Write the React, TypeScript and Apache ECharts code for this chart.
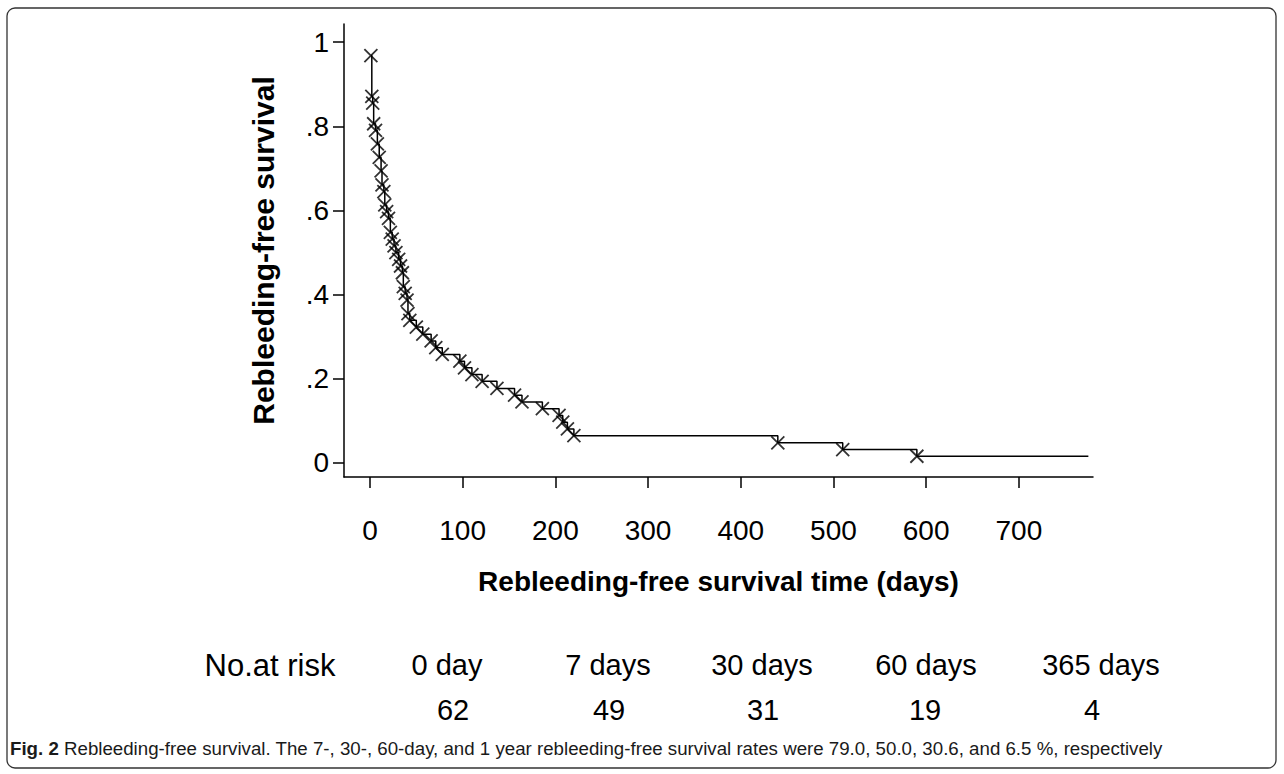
import React, { useEffect, useRef } from "react";
import * as echarts from "echarts";

// Kaplan–Meier event points (days, rebleeding-free survival)
const eventDays = [1, 2, 3, 4, 6, 8, 10, 12, 13, 15, 16, 18, 20, 22, 24, 26, 28, 31, 33, 35, 36, 38, 40, 41, 43, 50, 57, 66, 71, 78, 97, 102, 110, 121, 137, 156, 164, 186, 204, 208, 213, 220, 440, 510, 590];
const survival = [0.968, 0.871, 0.855, 0.806, 0.79, 0.758, 0.726, 0.694, 0.661, 0.645, 0.613, 0.597, 0.581, 0.548, 0.532, 0.516, 0.5, 0.484, 0.468, 0.452, 0.419, 0.403, 0.387, 0.355, 0.339, 0.323, 0.306, 0.29, 0.274, 0.258, 0.242, 0.226, 0.21, 0.194, 0.177, 0.161, 0.145, 0.129, 0.113, 0.097, 0.081, 0.065, 0.048, 0.032, 0.016];
const lastFollowUpDay = 775;

const xTicks = [0, 100, 200, 300, 400, 500, 600, 700];
const yTicks = [0, 0.2, 0.4, 0.6, 0.8, 1];
const yTickLabels = ["0", ".2", ".4", ".6", ".8", "1"];

const riskHeader = "No.at risk";
const riskTimes = ["0 day", "7 days", "30 days", "60 days", "365 days"];
const riskCounts = ["62", "49", "31", "19", "4"];
const riskCenters = [447, 608, 762, 926, 1101];
const countCenters = [453, 609, 763, 925, 1092];

const FONT = "'Liberation Sans', Arial, Helvetica, sans-serif";

export default function App() {
  const ref = useRef<HTMLDivElement>(null);

  useEffect(() => {
    if (!ref.current) return;
    const chart = echarts.init(ref.current, null, { renderer: "svg" });

    const points = eventDays.map((d, i) => [d, survival[i]]);
    const linePoints = [...points, [lastFollowUpDay, survival[survival.length - 1]]];

    const tableTexts: any[] = [];
    tableTexts.push({
      type: "text",
      x: 270,
      y: 665,
      style: { text: riskHeader, font: `31px ${FONT}`, fill: "#000", align: "center", verticalAlign: "middle" },
    });
    riskTimes.forEach((t, i) => {
      tableTexts.push({
        type: "text",
        x: riskCenters[i],
        y: 665,
        style: { text: t, font: `29px ${FONT}`, fill: "#000", align: "center", verticalAlign: "middle" },
      });
    });
    riskCounts.forEach((t, i) => {
      tableTexts.push({
        type: "text",
        x: countCenters[i],
        y: 710,
        style: { text: t, font: `29px ${FONT}`, fill: "#000", align: "center", verticalAlign: "middle" },
      });
    });

    chart.setOption({
      animation: false,
      backgroundColor: "#fff",
      grid: { left: 344, right: 191, top: 24, bottom: 297, containLabel: false },
      xAxis: {
        type: "value",
        min: -28,
        max: 780,
        name: "Rebleeding-free survival time (days)",
        nameLocation: "middle",
        nameGap: 90,
        nameTextStyle: { fontFamily: FONT, fontSize: 28, fontWeight: "bold", color: "#000" },
        axisLine: { show: true, onZero: false, lineStyle: { color: "#000", width: 1.5 } },
        axisTick: { show: true, length: 11, inside: false, customValues: xTicks, lineStyle: { color: "#000", width: 1.5 } },
        axisLabel: { customValues: xTicks, margin: 39, fontFamily: FONT, fontSize: 28, color: "#000" },
        splitLine: { show: false },
      },
      yAxis: {
        type: "value",
        min: -0.0333,
        max: 1.043,
        name: "Rebleeding-free survival",
        nameLocation: "middle",
        nameGap: 66,
        nameRotate: 90,
        nameTextStyle: { fontFamily: FONT, fontSize: 30, fontWeight: "bold", color: "#000" },
        axisLine: { show: true, onZero: false, lineStyle: { color: "#000", width: 1.5 } },
        axisTick: { show: true, length: 11, inside: false, customValues: yTicks, lineStyle: { color: "#000", width: 1.5 } },
        axisLabel: {
          customValues: yTicks,
          margin: 15,
          fontFamily: FONT,
          fontSize: 28,
          color: "#000",
          formatter: (v: number) => {
            const idx = yTicks.findIndex((t) => Math.abs(t - v) < 1e-6);
            return idx >= 0 ? yTickLabels[idx] : "";
          },
        },
        splitLine: { show: false },
      },
      series: [
        {
          type: "line",
          data: linePoints,
          step: "end",
          showSymbol: false,
          lineStyle: { color: "#000", width: 1.5 },
          z: 2,
        },
        {
          type: "scatter",
          data: points,
          symbol: "path://M0 0L10 10M10 0L0 10",
          symbolSize: 13,
          itemStyle: { color: "none", borderColor: "#000", borderWidth: 1.8 },
          z: 3,
        },
      ],
      graphic: [
        {
          type: "rect",
          shape: { x: 7, y: 8, width: 1269, height: 760, r: 8 },
          style: { fill: "none", stroke: "#333", lineWidth: 1.3 },
          z: -1,
        },
        ...tableTexts,
        {
          type: "text",
          left: 10,
          top: 739,
          style: {
            text: "{b|Fig. 2} Rebleeding-free survival. The 7-, 30-, 60-day, and 1 year rebleeding-free survival rates were 79.0, 50.0, 30.6, and 6.5 %, respectively",
            font: `18.7px ${FONT}`,
            fill: "#1a1a1a",
            rich: {
              b: { fontFamily: FONT, fontSize: 18.7, fontWeight: "bold", fill: "#1a1a1a" },
            },
          },
        },
      ],
    });

    return () => chart.dispose();
  }, []);

  return (
    <div
      ref={ref}
      style={{ position: "fixed", left: 0, top: 0, width: 1284, height: 774, background: "#fff" }}
    />
  );
}
